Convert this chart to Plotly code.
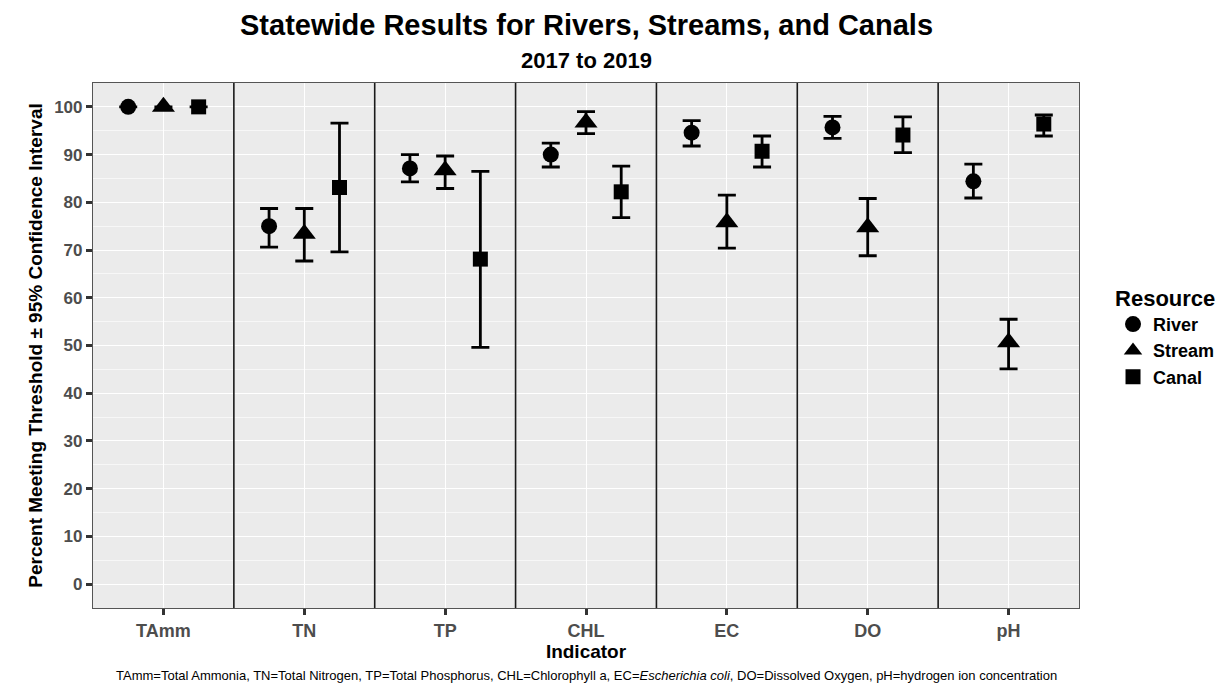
import plotly.graph_objects as go

indicators = ["TAmm", "TN", "TP", "CHL", "EC", "DO", "pH"]
resources = ["River", "Stream", "Canal"]

river_est = [100, 75.0, 87.1, 90.0, 94.6, 95.7, 84.4]
river_lo = [100, 70.6, 84.3, 87.4, 91.8, 93.4, 80.9]
river_hi = [100, 78.7, 90.0, 92.4, 97.1, 98.0, 88.0]

stream_est = [100, 73.4, 86.7, 96.7, 75.8, 74.8, 50.7]
stream_lo = [100, 67.7, 82.9, 94.4, 70.4, 68.8, 45.1]
stream_hi = [100, 78.7, 89.7, 99.0, 81.5, 80.8, 55.5]

canal_est = [100, 83.1, 68.1, 82.2, 90.7, 94.1, 96.4]
canal_lo = [100, 69.6, 49.6, 76.8, 87.4, 90.4, 93.9]
canal_hi = [100, 96.6, 86.5, 87.6, 93.9, 97.9, 98.3]

y_ticks = [0, 10, 20, 30, 40, 50, 60, 70, 80, 90, 100]

series = [
    ("River", river_est, river_lo, river_hi, "circle", 16, -0.25),
    ("Stream", stream_est, stream_lo, stream_hi, "triangle-up", 20, 0.0),
    ("Canal", canal_est, canal_lo, canal_hi, "square", 15, 0.25),
]

FONT = "Arial, Liberation Sans, Helvetica, sans-serif"
# the page body adds an 8px margin; compensate so the figure fills the window
W, H = 1222, 675
L, R, T, B = 85, 1071, 75, 600
PH = B - T
fig = go.Figure()
for name, est, lo, hi, sym, size, off in series:
    xs = [i + 1 + off for i in range(len(indicators))]
    fig.add_trace(go.Scatter(
        x=xs, y=est, mode="markers", name=name,
        marker=dict(symbol=sym, size=size, color="black"),
        error_y=dict(type="data", symmetric=False,
                     array=[h - e for h, e in zip(hi, est)],
                     arrayminus=[e - l for e, l in zip(est, lo)],
                     color="black", thickness=2.8, width=9),
    ))

# panel dividers between indicators
for k in range(1, len(indicators)):
    fig.add_shape(type="line", xref="x", yref="y domain", x0=k + 0.5, x1=k + 0.5,
                  y0=0, y1=1, line=dict(color="#1a1a1a", width=1.6), layer="above")

fig.update_layout(
    width=W, height=H,
    paper_bgcolor="white", plot_bgcolor="#ebebeb",
    margin=dict(l=L, r=W - R, t=T, b=H - B, autoexpand=False),
    font=dict(family=FONT, color="black"),
    legend=dict(
        title=dict(text="<b>Resource</b>", font=dict(size=22)),
        font=dict(size=18, family=FONT, weight="bold"), x=1.0345, xanchor="left", y=0.63, yanchor="top",
        itemsizing="trace", bgcolor="rgba(0,0,0,0)",
    ),
    showlegend=True,
)
cx = ((L + R) / 2 - L) / (R - L)
fig.add_annotation(text="<b>Statewide Results for Rivers, Streams, and Canals</b>",
                   xref="paper", yref="paper", x=cx, y=1 + (T - 17) / PH,
                   xanchor="center", yanchor="middle", showarrow=False,
                   font=dict(size=29, family=FONT, color="black"))
fig.add_annotation(text="<b>2017 to 2019</b>",
                   xref="paper", yref="paper", x=cx, y=1 + (T - 52) / PH,
                   xanchor="center", yanchor="middle", showarrow=False,
                   font=dict(size=22, family=FONT, color="black"))
fig.update_xaxes(
    range=[0.5, len(indicators) + 0.5],
    tickvals=list(range(1, len(indicators) + 1)), ticktext=["<b>%s</b>" % s for s in indicators],
    tickfont=dict(size=18, color="#4d4d4d", family=FONT),
    ticks="outside", ticklen=6, tickwidth=2.5, tickcolor="#333333",
    showgrid=True, gridcolor="white", gridwidth=1.3,
    showline=True, linecolor="#555555", linewidth=1.2, mirror=True,
    zeroline=False,
    title=dict(text="<b>Indicator</b>", font=dict(size=19, family=FONT), standoff=0),
)
fig.update_yaxes(
    range=[-5, 105],
    tickvals=y_ticks, ticktext=["<b>%d</b>" % v for v in y_ticks],
    tickfont=dict(size=17, color="#4d4d4d", family=FONT),
    ticks="outside", ticklen=6, tickwidth=2.5, tickcolor="#333333",
    showgrid=True, gridcolor="white", gridwidth=1.3,
    minor=dict(dtick=5, tick0=5, showgrid=True, gridcolor="#f7f7f7", gridwidth=0.8, ticks=""),
    showline=True, linecolor="#555555", linewidth=1.2, mirror=True,
    zeroline=False,
    title=dict(text="<b>Percent Meeting Threshold \u00b1 95% Confidence Interval</b>",
               font=dict(size=19, family=FONT), standoff=6),
)
fig.add_annotation(
    text="TAmm=Total Ammonia, TN=Total Nitrogen, TP=Total Phosphorus, CHL=Chlorophyll a, EC=<i>Escherichia coli</i>, DO=Dissolved Oxygen, pH=hydrogen ion concentration",
    xref="paper", yref="paper", x=cx, y=(B - 658) / PH,
    xanchor="center", yanchor="top",
    showarrow=False, font=dict(size=13, family=FONT, color="black"),
)
fig.write_html("out.html")
